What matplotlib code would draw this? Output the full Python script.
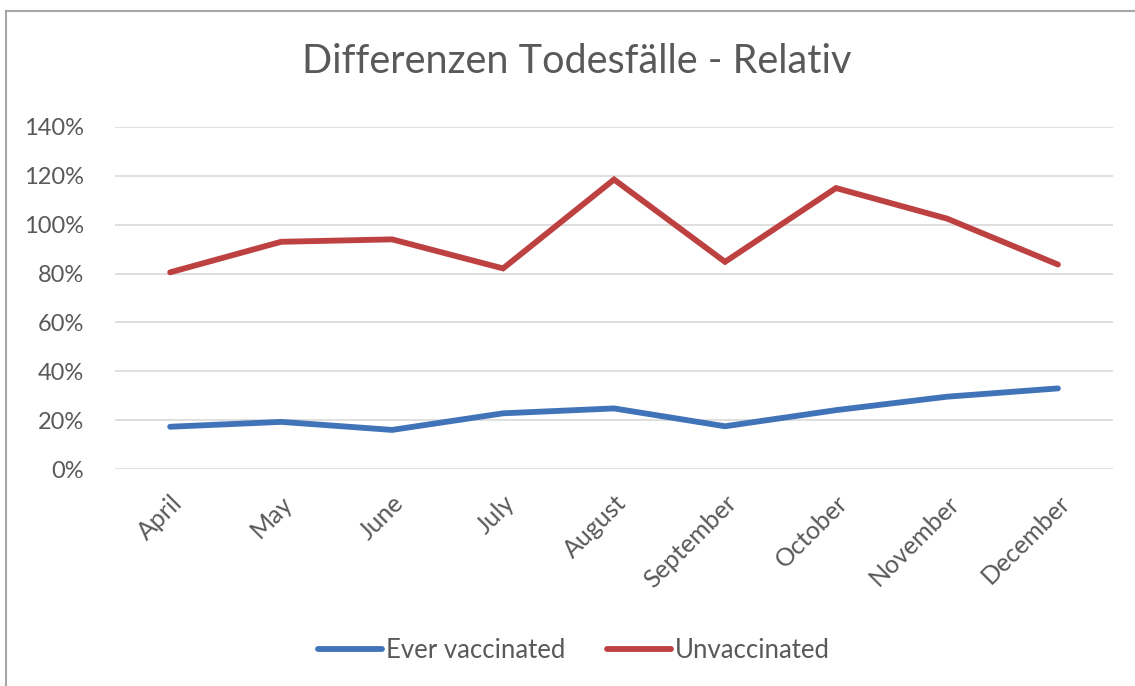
import matplotlib.pyplot as plt
from matplotlib.lines import Line2D
from matplotlib.ticker import PercentFormatter

plt.rcParams['font.family'] = ['Lato', 'DejaVu Sans']

# Data (relative difference in deaths)
months = ['April', 'May', 'June', 'July', 'August', 'September',
          'October', 'November', 'December']
ever_vaccinated = [0.173, 0.193, 0.160, 0.228, 0.248, 0.175, 0.241, 0.296, 0.330]
unvaccinated = [0.805, 0.930, 0.940, 0.821, 1.185, 0.848, 1.150, 1.025, 0.837]

text_col = '#595959'

fig = plt.figure(figsize=(11.35, 6.86), dpi=100)
ax = fig.add_axes([0.101, 0.3163, 0.880, 0.4986])

x = range(len(months))
ax.plot(x, ever_vaccinated, color='#4173B8', lw=4.2, solid_capstyle='round',
        solid_joinstyle='miter', label='Ever vaccinated')
ax.plot(x, unvaccinated, color='#BE4141', lw=4.2, solid_capstyle='round',
        solid_joinstyle='miter', label='Unvaccinated')

ax.set_xlim(-0.5, len(months) - 0.5)
ax.set_ylim(0, 1.4)
ax.set_yticks([0, 0.2, 0.4, 0.6, 0.8, 1.0, 1.2, 1.4])
ax.yaxis.set_major_formatter(PercentFormatter(1.0, decimals=0))
ax.set_xticks(list(x))
ax.set_xticklabels(months, rotation=45, ha='right', rotation_mode='anchor')

ax.grid(axis='y', color='#d9d9d9', lw=1.2)
ax.set_axisbelow(True)
for s in ax.spines.values():
    s.set_visible(False)
ax.tick_params(axis='both', length=0, colors=text_col)
ax.tick_params(axis='x', pad=16, labelsize=18)
ax.tick_params(axis='y', pad=22, labelsize=17)

fig.text(0.508, 0.91, 'Differenzen Todesfälle - Relativ', ha='center', va='center',
         fontsize=28.5, color=text_col)

ax.legend(loc='center', bbox_to_anchor=(0.46, -0.53), ncol=2, frameon=False,
          fontsize=18.5, labelcolor=text_col, handlelength=2.5, handletextpad=0.15,
          columnspacing=1.6)

# outer chart border (top and left visible)
fig.add_artist(Line2D([0.0055, 1.0], [0.984, 0.984], color='#a6a6a6', lw=1.5,
                      transform=fig.transFigure))
fig.add_artist(Line2D([0.0055, 0.0055], [0.0, 0.984], color='#a6a6a6', lw=1.5,
                      transform=fig.transFigure))

fig.savefig('out.png', dpi=100)
